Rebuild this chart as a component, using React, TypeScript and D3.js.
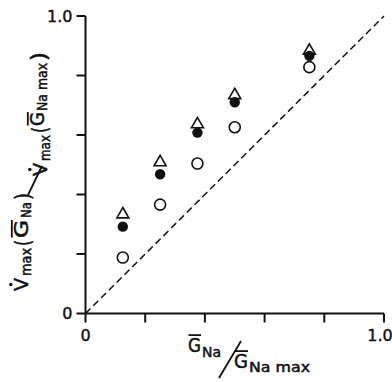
import React from 'react';
import * as d3 from 'd3';

// G_Na / G_Na max (x) for each experiment
const gRatio = [0.125, 0.25, 0.375, 0.5, 0.75];
// Vmax ratios for the three sets of symbols
const openCircles = [0.188, 0.366, 0.504, 0.626, 0.828];
const filledCircles = [0.292, 0.468, 0.608, 0.71, 0.866];
const triangles = [0.333, 0.508, 0.636, 0.734, 0.883];

const ticks = [0, 0.2, 0.4, 0.6, 0.8, 1];
const tickLabels = ['0', '1.0'];

const W = 392;
const H = 382;
const FONT = "'DejaVu Sans', sans-serif";
const INK = '#111';

type PieceProps = {
  text: string;
  x0: number;
  x1: number;
  base: number;
  size: number;
  bar?: boolean;
  dot?: boolean;
};

// one run of text stretched between x0 and x1 on a baseline
const Piece = ({ text, x0, x1, base, size, bar, dot }: PieceProps) => {
  const cap = size * 0.72;
  return (
    <g>
      <text
        x={x0}
        y={base}
        fontSize={size}
        fontFamily={FONT}
        fill={INK}
        stroke={INK}
        strokeWidth={0.5}
        textLength={x1 - x0}
        lengthAdjust="spacingAndGlyphs"
      >
        {text}
      </text>
      {bar && (
        <line x1={x0 + 0.5} x2={x1} y1={base - cap - 2.5} y2={base - cap - 2.5} stroke={INK} strokeWidth={1.8} />
      )}
      {dot && <circle cx={(x0 + x1) / 2} cy={base - cap - 3.5} r={1.7} fill={INK} />}
    </g>
  );
};

const App = () => {
  const x = d3.scaleLinear().domain([0, 1]).range([85.5, 384]);
  const y = d3.scaleLinear().domain([0, 1]).range([313.5, 16]);

  const tri = d3.symbol(d3.symbolTriangle, 62)()!;

  return (
    <svg width={W} height={H} style={{ position: 'absolute', left: 0, top: 0, background: '#fff' }}>
      {/* axes */}
      <line x1={x(0)} x2={x(0)} y1={y(1)} y2={y(0)} stroke={INK} strokeWidth={2} />
      <line x1={x(0)} x2={x(1)} y1={y(0)} y2={y(0)} stroke={INK} strokeWidth={2} />
      {ticks.map((t) => (
        <g key={'t' + t}>
          <line x1={x(t)} x2={x(t)} y1={y(0)} y2={y(0) + 9} stroke={INK} strokeWidth={2} />
          <line x1={x(0) - 9} x2={x(0)} y1={y(t)} y2={y(t)} stroke={INK} strokeWidth={2} />
        </g>
      ))}
      {[0, 1].map((t, i) => (
        <g key={'l' + t} fontFamily={FONT} fontSize={16} fill={INK} stroke={INK} strokeWidth={0.4}>
          <text x={Math.min(x(t), 380)} y={y(0) + 27} textAnchor="middle">
            {tickLabels[i]}
          </text>
          <text x={x(0) - 13} y={y(t) + 5.5} textAnchor="end">
            {tickLabels[i]}
          </text>
        </g>
      ))}

      {/* identity line */}
      <line
        x1={x(0)}
        y1={y(0)}
        x2={x(1)}
        y2={y(1)}
        stroke={INK}
        strokeWidth={1.5}
        strokeDasharray="7,4"
      />

      {/* data */}
      {gRatio.map((g, i) => (
        <g key={'d' + i}>
          <circle cx={x(g)} cy={y(openCircles[i])} r={5.5} fill="#fff" stroke={INK} strokeWidth={1.6} />
          <circle cx={x(g)} cy={y(filledCircles[i])} r={5.2} fill={INK} />
          <path
            d={tri}
            transform={`translate(${x(g)},${y(triangles[i])})`}
            fill="none"
            stroke={INK}
            strokeWidth={1.6}
          />
        </g>
      ))}

      {/* x axis title */}
      <Piece text="G" x0={188} x1={201} base={352} size={20} bar />
      <Piece text="Na" x0={202} x1={221} base={357} size={14} />
      <line x1={219} y1={378} x2={241} y2={341} stroke={INK} strokeWidth={1.8} />
      <Piece text="G" x0={234} x1={248} base={368} size={20} bar />
      <Piece text="Na max" x0={249} x1={310} base={372} size={14} />

      {/* y axis title */}
      <g transform="rotate(-90)">
        <Piece text="V" x0={-291} x1={-278} base={28} size={19} dot />
        <Piece text="max" x0={-276} x1={-248} base={31} size={14} />
        <Piece text="(" x0={-246} x1={-240} base={30} size={22} />
        <Piece text="G" x0={-238} x1={-220} base={28} size={19} bar />
        <Piece text="Na" x0={-218} x1={-202} base={31} size={14} />
        <Piece text=")" x0={-200} x1={-193} base={30} size={22} />

        <Piece text="V" x0={-176} x1={-163} base={47} size={19} dot />
        <Piece text="max" x0={-161} x1={-135} base={50} size={14} />
        <Piece text="(" x0={-133} x1={-127} base={47} size={22} />
        <Piece text="G" x0={-126} x1={-112} base={44} size={19} bar />
        <Piece text="Na max" x0={-111} x1={-63} base={47} size={14} />
        <Piece text=")" x0={-61} x1={-52} base={46} size={22} />
      </g>
      <line x1={28} y1={195} x2={42} y2={166} stroke={INK} strokeWidth={1.8} />
    </svg>
  );
};

export default App;
